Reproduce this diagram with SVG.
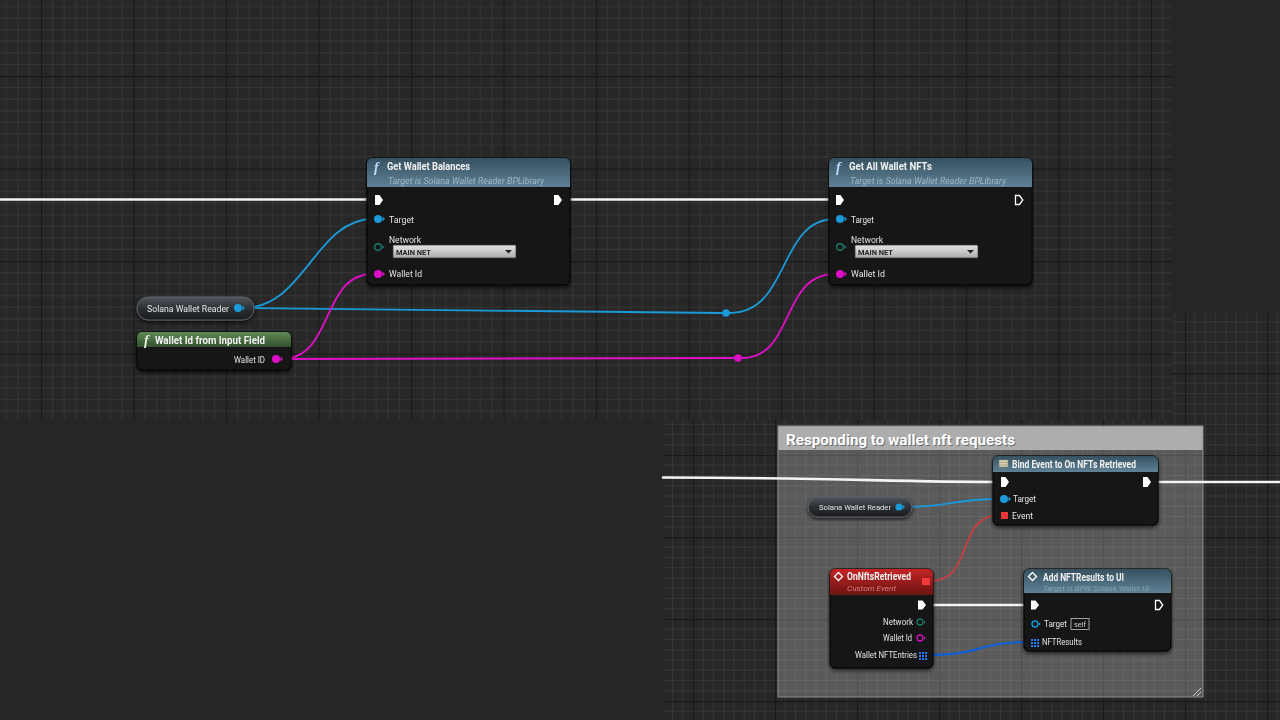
<svg xmlns="http://www.w3.org/2000/svg" width="1280" height="720" viewBox="0 0 1280 720">
<defs>
<pattern id="gridA" patternUnits="userSpaceOnUse" x="41" y="76" width="92.5" height="92.5">
<rect width="92.5" height="92.5" fill="#272727"/>
<path d="M11.56 0V92.5M23.13 0V92.5M34.69 0V92.5M46.25 0V92.5M57.81 0V92.5M69.38 0V92.5M80.94 0V92.5M0 11.56H92.5M0 23.13H92.5M0 34.69H92.5M0 46.25H92.5M0 57.81H92.5M0 69.38H92.5M0 80.94H92.5" stroke="#353535" stroke-width="1"/>
<path d="M0.5 0V92.5M0 0.5H92.5" stroke="#191919" stroke-width="1.4"/>
</pattern>
<pattern id="gridC" patternUnits="userSpaceOnUse" x="37" y="45" width="82" height="82">
<rect width="82" height="82" fill="#272727"/>
<path d="M10.25 0V82M20.5 0V82M30.75 0V82M41 0V82M51.25 0V82M61.5 0V82M71.75 0V82M0 10.25H82M0 20.5H82M0 30.75H82M0 41H82M0 51.25H82M0 61.5H82M0 71.75H82" stroke="#353535" stroke-width="1"/>
<path d="M0.5 0V82M0 0.5H82" stroke="#191919" stroke-width="1.4"/>
</pattern>
<linearGradient id="hdrBlue" x1="0" y1="0" x2="0" y2="1">
<stop offset="0" stop-color="#36505f"/>
<stop offset="1" stop-color="#5f8296"/>
</linearGradient>
<linearGradient id="hdrGreen" x1="0" y1="0" x2="0" y2="1">
<stop offset="0" stop-color="#5f8a55"/>
<stop offset="1" stop-color="#34502e"/>
</linearGradient>
<linearGradient id="hdrRed" x1="0" y1="0" x2="0" y2="1">
<stop offset="0" stop-color="#c42424"/>
<stop offset="1" stop-color="#6a1414"/>
</linearGradient>
<linearGradient id="pill" x1="0" y1="0" x2="0" y2="1">
<stop offset="0" stop-color="#50565c"/>
<stop offset="0.5" stop-color="#2c3034"/>
<stop offset="1" stop-color="#1a1c1e"/>
</linearGradient>
<linearGradient id="combo" x1="0" y1="0" x2="0" y2="1">
<stop offset="0" stop-color="#e4e4e4"/>
<stop offset="1" stop-color="#acacac"/>
</linearGradient>
<filter id="shadow" x="-10%" y="-10%" width="120%" height="130%">
<feDropShadow dx="0" dy="2" stdDeviation="2" flood-color="#000" flood-opacity="0.7"/>
</filter>
</defs>
<style>
.t{font-family:Roboto,"Liberation Sans",sans-serif;fill:#e6e6e6;}
.title{font-size:11px;font-weight:bold;fill:#f2f2f2;}
.sub{font-size:9.5px;font-style:italic;fill:#9fb6c4;}
.lbl{font-size:9.5px;}
.small{font-size:8.5px;}
.combo-t{font-size:7.5px;font-weight:bold;fill:#262626;}
.icon-f{font-family:"Liberation Serif",serif;font-size:14px;font-style:italic;font-weight:bold;fill:#b8dcff;}
.body{fill:#131416;stroke:#000;stroke-width:1;}
.exec{fill:#fff;}
.execO{fill:none;stroke:#fff;stroke-width:1.3;}
.wire{fill:none;stroke-linecap:round;}
.w-exec{stroke:#f4f4f4;stroke-width:2.6;}
.w-obj{stroke:#1a9ad8;stroke-width:1.8;}
.w-str{stroke:#e010c8;stroke-width:1.8;}
.w-del{stroke:#d83a3a;stroke-width:1.6;}
.w-arr{stroke:#1060d8;stroke-width:2.2;}
</style>

<!-- background -->
<rect x="0" y="0" width="1280" height="720" fill="#262626"/>
<rect x="0" y="0" width="1172" height="420" fill="url(#gridA)"/>
<path d="M1172 313H1280V720H663V420H1172Z" fill="url(#gridC)"/>

<!-- comment box -->
<g id="comment-responding">
<rect x="778" y="426" width="425" height="271" fill="#ffffff" fill-opacity="0.24"/>
<rect x="778" y="426" width="425" height="24" fill="#adadad"/>
<rect x="778" y="426" width="425" height="271" fill="none" stroke="#8c8c8c" stroke-width="1"/>
<text class="t" x="787" y="446.2" font-size="15" font-weight="bold" style="fill:#000;fill-opacity:0.4" textLength="229" lengthAdjust="spacingAndGlyphs">Responding to wallet nft requests</text>
<text class="t" x="786" y="445" font-size="15" font-weight="bold" style="fill:#ffffff" textLength="229" lengthAdjust="spacingAndGlyphs">Responding to wallet nft requests</text>
<path d="M1201 688L1193 696M1201 692L1197 696" stroke="#d0d0d0" stroke-width="1"/>
</g>

<!-- connectors -->
<g id="connectors">
<path class="wire w-exec" d="M0 199.5H374"/>
<path class="wire w-exec" d="M563 199.5H835"/>
<path class="wire w-obj" d="M243 308C305 308 315 219 373 219"/>
<path class="wire w-obj" d="M243 308L722 313"/>
<path class="wire w-obj" d="M730 313C790 313 778 219 835 219"/>
<path class="wire w-str" d="M281 359C335 359 320 274 373 274"/>
<path class="wire w-str" d="M281 359L734 358"/>
<path class="wire w-str" d="M742 358C795 358 780 274 835 274"/>
<circle cx="726" cy="313" r="3.8" fill="#1a9ad8"/>
<circle cx="738" cy="358" r="3.8" fill="#e010c8"/>
<path class="wire w-exec" d="M663 477.5C820 477.5 900 482 999 482"/>
<path class="wire w-exec" d="M1152 482H1280"/>
<path class="wire w-obj" d="M904 507C955 507 950 499 999 499"/>
<path class="wire w-del" d="M930 581C975 581 955 515 1000 515"/>
<path class="wire w-exec" d="M927 605H1030"/>
<path class="wire w-arr" d="M927 655C985 655 975 642 1030 642"/>
</g>

<!-- Get Wallet Balances -->
<g id="node-get-wallet-balances" filter="url(#shadow)">
<rect class="body" x="367" y="158" width="203" height="127" rx="5"/>
<path d="M367 187V163a5 5 0 0 1 5-5H565a5 5 0 0 1 5 5V187Z" fill="url(#hdrBlue)"/>
<text class="icon-f" x="374" y="172">f</text>
<text class="t title" x="387" y="170" textLength="83" lengthAdjust="spacingAndGlyphs">Get Wallet Balances</text>
<text class="t sub" x="388" y="184" textLength="156" lengthAdjust="spacingAndGlyphs">Target is Solana Wallet Reader BPLibrary</text>
<path class="exec" d="M375 195h4.5l3.5 5l-3.5 5h-4.5z"/>
<path class="exec" d="M554 195h4.5l3.5 5l-3.5 5h-4.5z"/>
<circle cx="378" cy="219" r="4" fill="#1a9ad8"/><path d="M382.5 216.5l2.5 2.5l-2.5 2.5z" fill="#1a9ad8"/>
<text class="t lbl" x="389" y="222.5" textLength="25" lengthAdjust="spacingAndGlyphs">Target</text>
<circle cx="378" cy="247" r="3.3" fill="none" stroke="#1b7a6a" stroke-width="1.4"/><path d="M382.5 245l2 2l-2 2z" fill="#1b7a6a"/>
<text class="t lbl" x="389" y="243" textLength="32" lengthAdjust="spacingAndGlyphs">Network</text>
<rect x="393" y="245" width="123" height="13" fill="url(#combo)" stroke="#3a3a3a" stroke-width="0.8" rx="1"/>
<text class="t combo-t" x="396" y="254.5" textLength="35" lengthAdjust="spacingAndGlyphs">MAIN NET</text>
<path d="M505 250h7l-3.5 3.5z" fill="#222"/>
<circle cx="378" cy="274" r="4" fill="#e010c8"/><path d="M382.5 271.5l2.5 2.5l-2.5 2.5z" fill="#e010c8"/>
<text class="t lbl" x="389" y="277" textLength="33" lengthAdjust="spacingAndGlyphs">Wallet Id</text>
</g>

<!-- Get All Wallet NFTs -->
<g id="node-get-all-wallet-nfts" filter="url(#shadow)">
<rect class="body" x="829" y="158" width="203" height="127" rx="5"/>
<path d="M829 187V163a5 5 0 0 1 5-5H1027a5 5 0 0 1 5 5V187Z" fill="url(#hdrBlue)"/>
<text class="icon-f" x="836" y="172">f</text>
<text class="t title" x="849" y="170" textLength="83" lengthAdjust="spacingAndGlyphs">Get All Wallet NFTs</text>
<text class="t sub" x="850" y="184" textLength="156" lengthAdjust="spacingAndGlyphs">Target is Solana Wallet Reader BPLibrary</text>
<path class="exec" d="M836 195h4.5l3.5 5l-3.5 5h-4.5z"/>
<path class="execO" d="M1015.5 195.5h4l3.3 4.5l-3.3 4.5h-4z"/>
<circle cx="840" cy="219" r="4" fill="#1a9ad8"/><path d="M844.5 216.5l2.5 2.5l-2.5 2.5z" fill="#1a9ad8"/>
<text class="t lbl" x="851" y="222.5" textLength="23" lengthAdjust="spacingAndGlyphs">Target</text>
<circle cx="840" cy="247" r="3.3" fill="none" stroke="#1b7a6a" stroke-width="1.4"/><path d="M844.5 245l2 2l-2 2z" fill="#1b7a6a"/>
<text class="t lbl" x="851" y="243" textLength="32" lengthAdjust="spacingAndGlyphs">Network</text>
<rect x="855" y="245" width="123" height="13" fill="url(#combo)" stroke="#3a3a3a" stroke-width="0.8" rx="1"/>
<text class="t combo-t" x="858" y="254.5" textLength="35" lengthAdjust="spacingAndGlyphs">MAIN NET</text>
<path d="M967 250h7l-3.5 3.5z" fill="#222"/>
<circle cx="840" cy="274" r="4" fill="#e010c8"/><path d="M844.5 271.5l2.5 2.5l-2.5 2.5z" fill="#e010c8"/>
<text class="t lbl" x="851" y="277" textLength="34" lengthAdjust="spacingAndGlyphs">Wallet Id</text>
</g>

<!-- Solana Wallet Reader (top) -->
<g id="node-solana-wallet-reader-1" filter="url(#shadow)">
<rect x="137" y="297" width="117" height="23" rx="11" fill="url(#pill)" stroke="#5c6166" stroke-width="1"/>
<text class="t lbl" x="147" y="311.5" textLength="82" lengthAdjust="spacingAndGlyphs">Solana Wallet Reader</text>
<circle cx="238" cy="308" r="4" fill="#1a9ad8"/><path d="M242.5 305.5l2.5 2.5l-2.5 2.5z" fill="#1a9ad8"/>
</g>

<!-- Wallet Id from Input Field -->
<g id="node-wallet-id-from-input" filter="url(#shadow)">
<rect class="body" x="137" y="332" width="154" height="38" rx="5"/>
<path d="M137 347V337a5 5 0 0 1 5-5H286a5 5 0 0 1 5 5V347Z" fill="url(#hdrGreen)"/>
<text class="icon-f" x="144" y="345" style="fill:#e2f5d8">f</text>
<text class="t title" x="155" y="343.5" textLength="110" lengthAdjust="spacingAndGlyphs">Wallet Id from Input Field</text>
<text class="t lbl" x="234" y="362.5" textLength="31" lengthAdjust="spacingAndGlyphs">Wallet ID</text>
<circle cx="276" cy="359" r="4" fill="#e010c8"/><path d="M280.5 356.5l2.5 2.5l-2.5 2.5z" fill="#e010c8"/>
</g>

<!-- Bind Event to On NFTs Retrieved -->
<g id="node-bind-event" filter="url(#shadow)">
<rect class="body" x="993" y="456" width="165" height="69" rx="5"/>
<path d="M993 472V461a5 5 0 0 1 5-5H1153a5 5 0 0 1 5 5V472Z" fill="url(#hdrBlue)"/>
<rect x="999" y="460" width="9" height="7" fill="#d9d2b4" stroke="#8c8470" stroke-width="0.5"/>
<path d="M999 462.5h9M999 465h9" stroke="#8c8470" stroke-width="0.6"/>
<text class="t title" x="1012" y="468" style="font-size:10px" textLength="124" lengthAdjust="spacingAndGlyphs">Bind Event to On NFTs Retrieved</text>
<path class="exec" d="M1001 477h4.5l3.5 5l-3.5 5h-4.5z"/>
<path class="exec" d="M1143 477h4.5l3.5 5l-3.5 5h-4.5z"/>
<circle cx="1004" cy="499" r="4" fill="#1a9ad8"/><path d="M1008.5 496.5l2.5 2.5l-2.5 2.5z" fill="#1a9ad8"/>
<text class="t small" x="1013" y="502" textLength="23" lengthAdjust="spacingAndGlyphs">Target</text>
<rect x="1001" y="512" width="7" height="7" fill="#e83434"/>
<text class="t small" x="1012" y="518.5" textLength="21" lengthAdjust="spacingAndGlyphs">Event</text>
</g>

<!-- Solana Wallet Reader (comment) -->
<g id="node-solana-wallet-reader-2" filter="url(#shadow)">
<rect x="808" y="497" width="104" height="20" rx="10" fill="url(#pill)" stroke="#5c6166" stroke-width="1"/>
<text class="t small" x="819" y="510" style="font-size:8px" textLength="72" lengthAdjust="spacingAndGlyphs">Solana Wallet Reader</text>
<circle cx="899" cy="507" r="3.6" fill="#1a9ad8"/><path d="M903 505l2 2l-2 2z" fill="#1a9ad8"/>
</g>

<!-- OnNftsRetrieved -->
<g id="node-on-nfts-retrieved" filter="url(#shadow)">
<rect class="body" x="830" y="569" width="103" height="99" rx="5"/>
<path d="M830 595V574a5 5 0 0 1 5-5H928a5 5 0 0 1 5 5V595Z" fill="url(#hdrRed)"/>
<path d="M838.5 572.5l4 4l-4 4l-4-4z" fill="none" stroke="#fff" stroke-width="1.3"/>
<text class="t title" x="847" y="580" style="font-size:10px" textLength="64" lengthAdjust="spacingAndGlyphs">OnNftsRetrieved</text>
<text class="t" x="847" y="591" style="font-size:8px;font-style:italic;fill:#d88080" textLength="49" lengthAdjust="spacingAndGlyphs">Custom Event</text>
<rect x="922" y="578" width="8" height="7" fill="#f03a3a"/>
<path class="exec" d="M918 600.5h4.5l3.5 4.5l-3.5 4.5h-4.5z"/>
<text class="t small" x="883" y="625" textLength="30" lengthAdjust="spacingAndGlyphs">Network</text>
<circle cx="920" cy="622" r="3" fill="none" stroke="#1b7a6a" stroke-width="1.3"/><path d="M924 620.5l1.8 1.5l-1.8 1.5z" fill="#1b7a6a"/>
<text class="t small" x="883" y="641" textLength="29" lengthAdjust="spacingAndGlyphs">Wallet Id</text>
<circle cx="920" cy="638" r="3" fill="none" stroke="#d010c0" stroke-width="1.3"/><path d="M924 636.5l1.8 1.5l-1.8 1.5z" fill="#d010c0"/>
<text class="t small" x="855" y="658" textLength="62" lengthAdjust="spacingAndGlyphs">Wallet NFTEntries</text>
<path d="M919 652h2v2h-2zM922 652h2v2h-2zM925 652h2v2h-2zM919 655h2v2h-2zM922 655h2v2h-2zM925 655h2v2h-2zM919 658h2v2h-2zM922 658h2v2h-2zM925 658h2v2h-2z" fill="#2a7af0"/>
</g>

<!-- Add NFTResults to UI -->
<g id="node-add-nft-results" filter="url(#shadow)">
<rect class="body" x="1024" y="569" width="147" height="82" rx="5"/>
<path d="M1024 593V574a5 5 0 0 1 5-5H1166a5 5 0 0 1 5 5V593Z" fill="url(#hdrBlue)"/>
<path d="M1032.5 572.5l4 4l-4 4l-4-4z" fill="none" stroke="#fff" stroke-width="1.3"/>
<text class="t title" x="1043" y="581" style="font-size:10px" textLength="81" lengthAdjust="spacingAndGlyphs">Add NFTResults to UI</text>
<text class="t sub" x="1043" y="590.5" style="font-size:8px;fill:#86a0b0" textLength="106" lengthAdjust="spacingAndGlyphs">Target is BPW Solana Wallet UI</text>
<path class="exec" d="M1031 600.5h4.5l3.5 4.5l-3.5 4.5h-4.5z"/>
<path class="execO" d="M1155.5 600.5h4l3.2 4.5l-3.2 4.5h-4z"/>
<circle cx="1035" cy="624" r="3" fill="none" stroke="#1a9ad8" stroke-width="1.4"/><path d="M1039 622.5l1.8 1.5l-1.8 1.5z" fill="#1a9ad8"/>
<text class="t small" x="1044" y="627" textLength="23" lengthAdjust="spacingAndGlyphs">Target</text>
<rect x="1071" y="618.5" width="18" height="11" fill="none" stroke="#b0b0b0" stroke-width="0.9"/>
<text class="t small" x="1074" y="627" style="font-size:8px;fill:#cfcfcf" textLength="12" lengthAdjust="spacingAndGlyphs">self</text>
<path d="M1031 639h2v2h-2zM1034 639h2v2h-2zM1037 639h2v2h-2zM1031 642h2v2h-2zM1034 642h2v2h-2zM1037 642h2v2h-2zM1031 645h2v2h-2zM1034 645h2v2h-2zM1037 645h2v2h-2z" fill="#2a7af0"/>
<text class="t small" x="1042" y="645" textLength="40" lengthAdjust="spacingAndGlyphs">NFTResults</text>
</g>
</svg>
